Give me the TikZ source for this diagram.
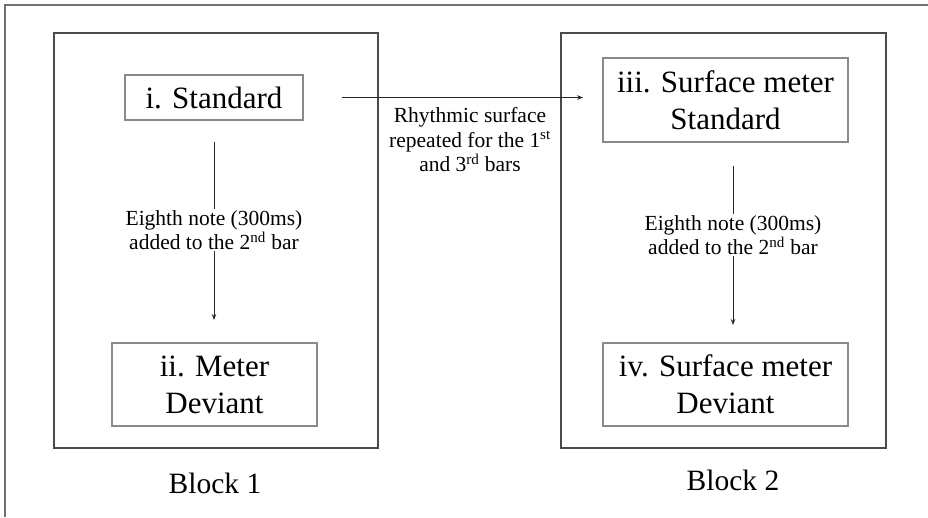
\documentclass[tikz,border=0pt]{standalone}
\usepackage{fontspec}
\setmainfont{Liberation Serif}
\usetikzlibrary{arrows.meta}
\definecolor{framegray}{HTML}{707070}
\definecolor{blockgray}{HTML}{4A4A4A}
\definecolor{boxgray}{HTML}{8A8A8A}
\tikzset{
  blockbox/.style={draw=blockgray, line width=1.2pt, minimum width=#1, inner sep=0pt},
  stimbox/.style={draw=boxgray, line width=1.3pt, align=center, inner sep=0pt,
    font=\fontsize{31}{37}\selectfont},
  blocklabel/.style={font=\fontsize{29.5}{34}\selectfont, inner sep=0pt},
  arrlabel/.style={align=center, font=\fontsize{21.5}{24.5}\selectfont, inner sep=1pt},
  conn/.style={draw=black!85, line width=0.9pt, -{Stealth[length=6pt,width=4.5pt]}},
}
\begin{document}
\begin{tikzpicture}[x=1pt,y=-1pt]
\useasboundingbox (0,0) rectangle (928,517);
\fill[white] (0,0) rectangle (928,517);
% outer frame (extends past the picture on right and bottom)
\draw[framegray, line width=2pt] (5,517) -- (5,5) -- (928,5);
% blocks
\node[blockbox=324pt, minimum height=415pt] (blk1) at (216,240.5) {};
\node[blockbox=325pt, minimum height=415pt] (blk2) at (723.5,240.5) {};
% stimulus boxes
\node[stimbox, minimum width=178pt, minimum height=45pt] (i) at (214,97.5) {i. Standard};
\node[stimbox, minimum width=205pt, minimum height=83pt] (ii) at (214.5,384.5) {ii. Meter\\Deviant};
\node[stimbox, minimum width=245pt, minimum height=84pt] (iii) at (725.5,100) {iii. Surface meter\\Standard};
\node[stimbox, minimum width=245pt, minimum height=83pt] (iv) at (725.5,384.5) {iv. Surface meter\\Deviant};
% block labels
\node[blocklabel] (b1) at (215,483) {Block 1};
\node[blocklabel] (b2) at (733,480) {Block 2};
% connector endpoints
\coordinate (a1s) at (214,142);
\coordinate (a1e) at (214,320);
\coordinate (a2s) at (733,166);
\coordinate (a2e) at (733,325);
\coordinate (hs) at (342,97.5);
\coordinate (he) at (583,97.5);
% connectors
\draw[conn] (a1s) -- (a1e);
\node[arrlabel, fill=white] (l1) at (214,230) {Eighth note (300ms)\\added to the 2\textsuperscript{nd} bar};
\draw[conn] (a2s) -- (a2e);
\node[arrlabel, fill=white] (l2) at (733,235) {Eighth note (300ms)\\added to the 2\textsuperscript{nd} bar};
\draw[conn] (hs) -- (he);
\node[arrlabel] (l3) at (470,140) {Rhythmic surface\\repeated for the 1\textsuperscript{st}\\and 3\textsuperscript{rd} bars};
\end{tikzpicture}
\end{document}
